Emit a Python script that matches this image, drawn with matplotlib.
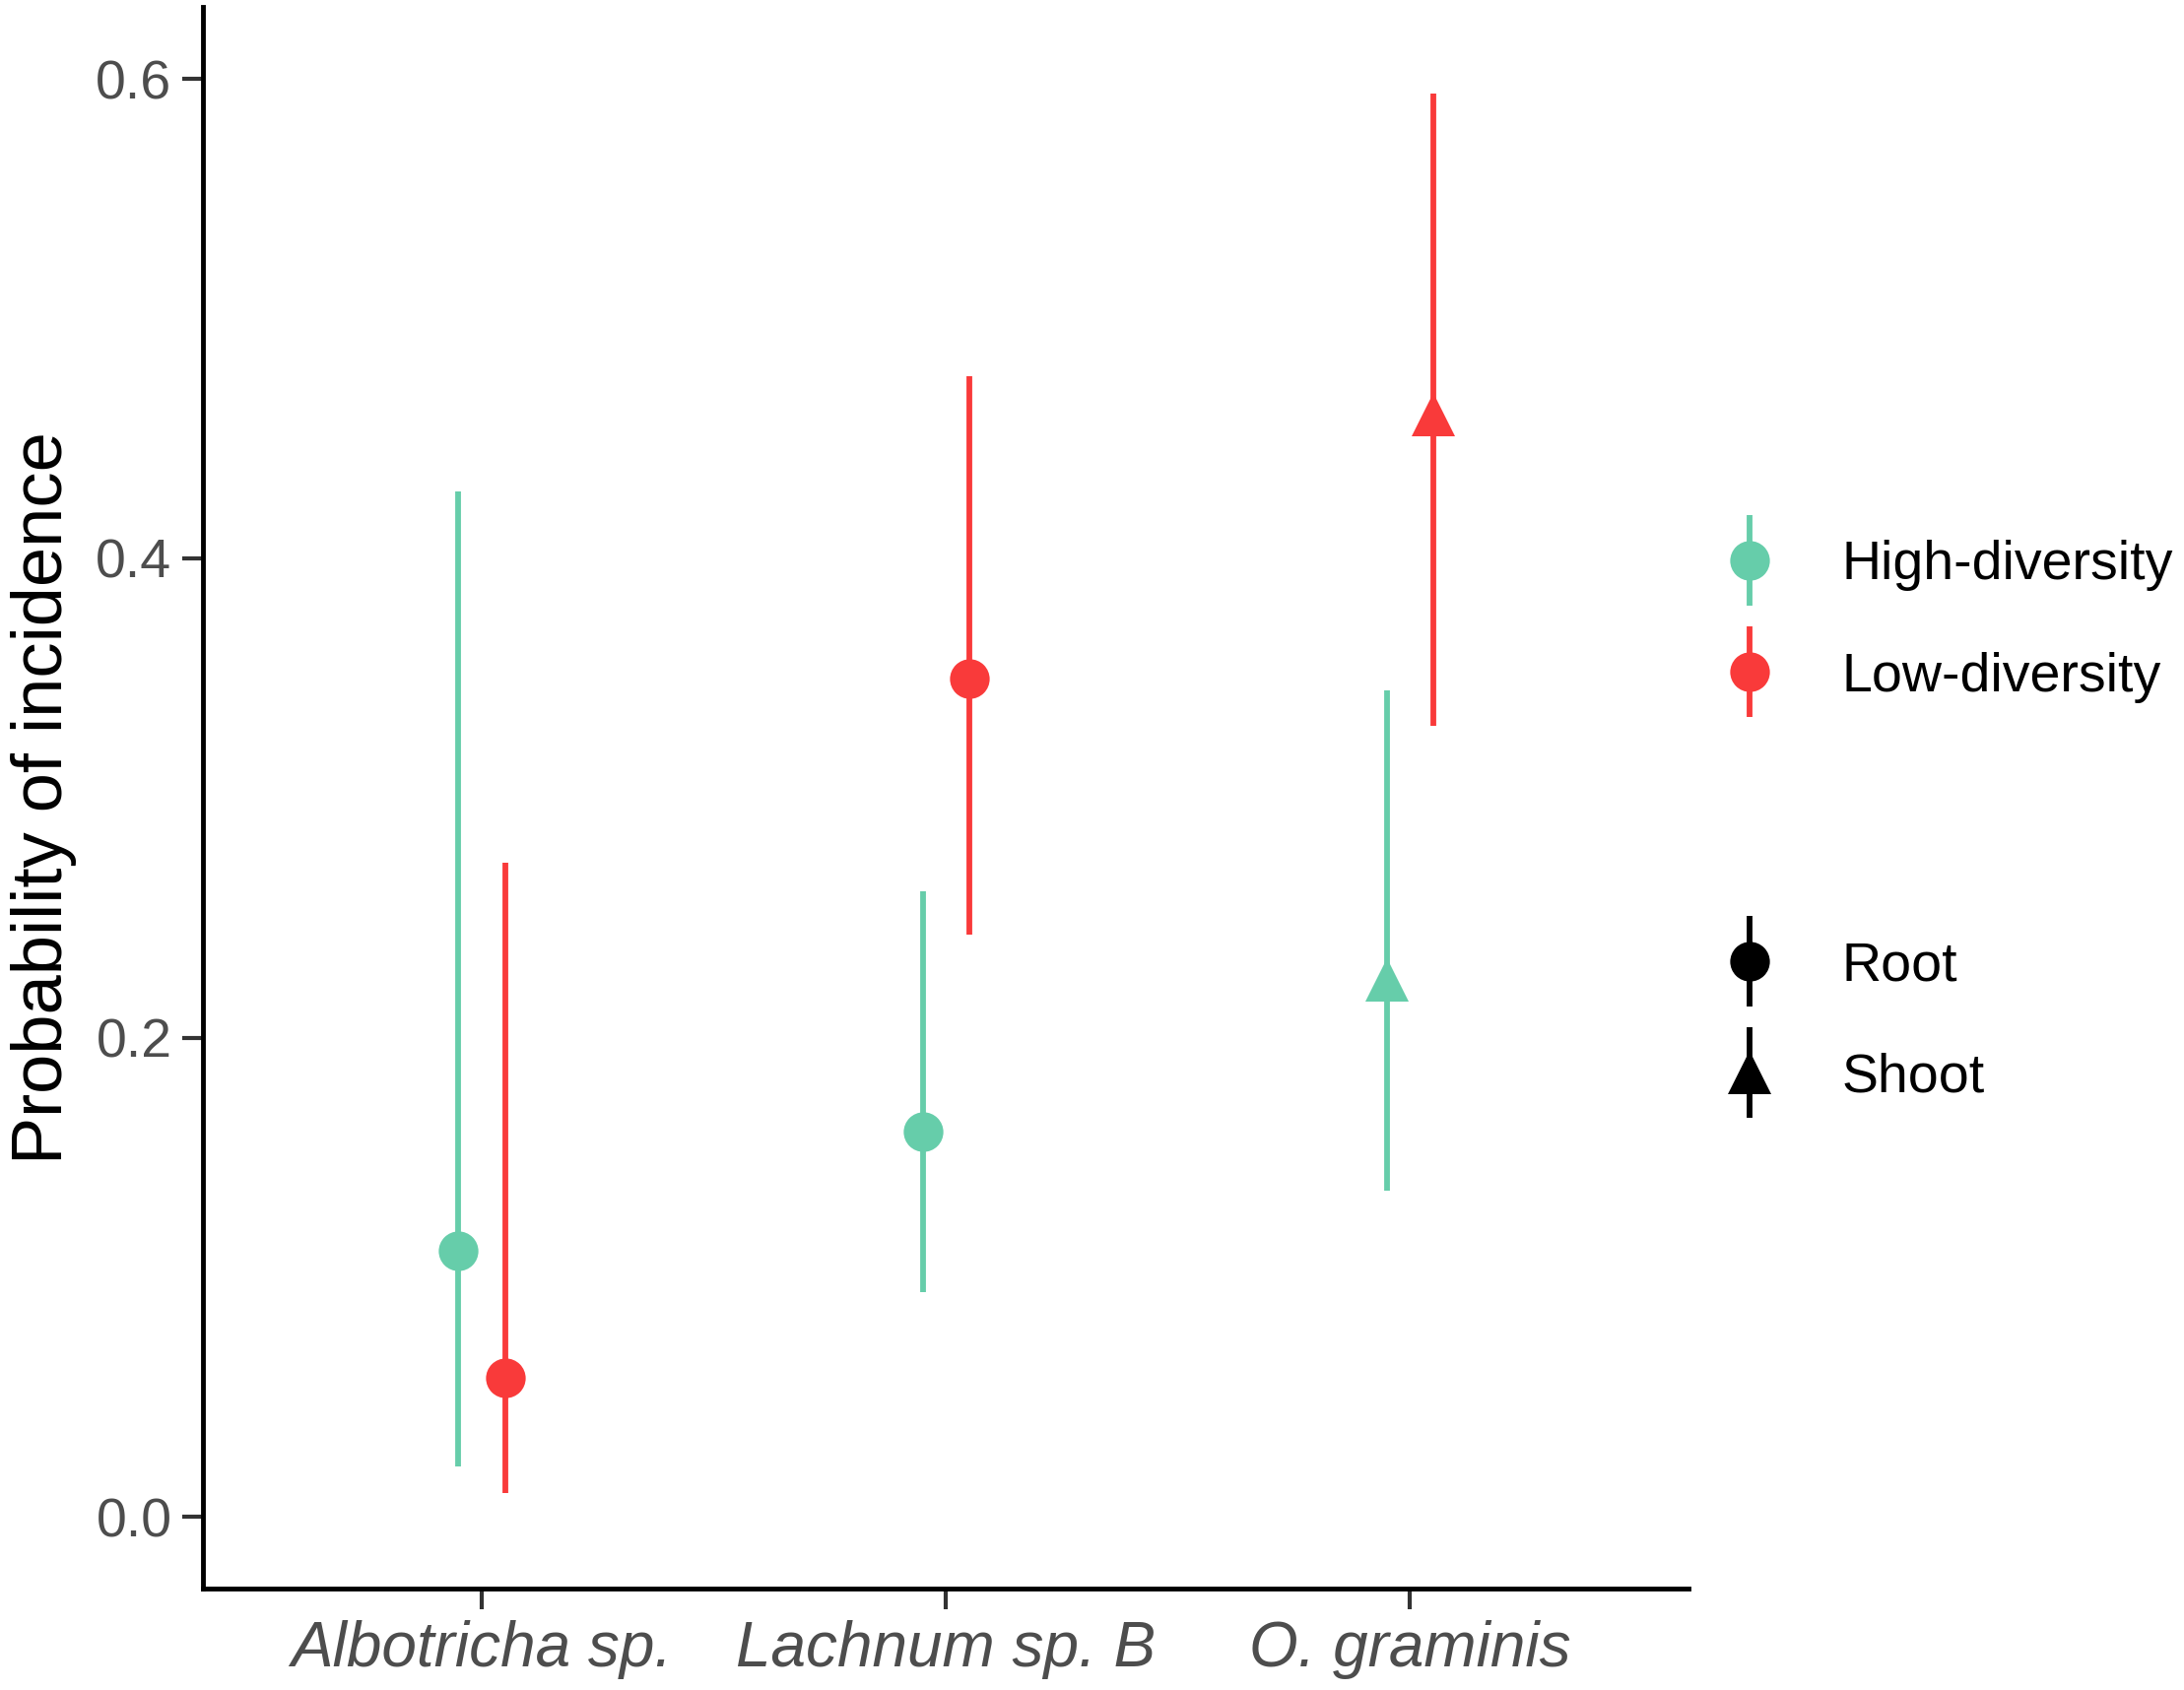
import matplotlib
matplotlib.use('Agg')
import matplotlib.pyplot as plt
from matplotlib.lines import Line2D
from matplotlib.legend_handler import HandlerBase
import numpy as np

plt.rcParams['font.family'] = ['Liberation Sans', 'DejaVu Sans']

species = ['Albotricha sp.', 'Lachnum sp. B', 'O. graminis']
tissue = ['Root', 'Root', 'Shoot']

high_est = [0.111, 0.161, 0.224]
high_lo = [0.021, 0.094, 0.136]
high_hi = [0.428, 0.261, 0.345]

low_est = [0.058, 0.350, 0.460]
low_lo = [0.010, 0.243, 0.330]
low_hi = [0.273, 0.476, 0.594]

teal = '#66CDAA'
red = '#F93A3A'
marker_of = {'Root': 'o', 'Shoot': '^'}

fig = plt.figure(figsize=(22.17, 17.16), dpi=100)
ax = fig.add_axes([0.0931, 0.0602, 0.6799, 0.9357])

x = np.arange(1, len(species) + 1)
dodge = 0.05
for xs, est, lo, hi, col in [(x - dodge, high_est, high_lo, high_hi, teal),
                             (x + dodge, low_est, low_lo, low_hi, red)]:
    for xi, e, l, h, t in zip(xs, est, lo, hi, tissue):
        ax.plot([xi, xi], [l, h], color=col, lw=4.2, solid_capstyle='butt', zorder=2)
        ms = 29 if t == 'Root' else 32
        ax.plot(xi, e, marker=marker_of[t], color=col, ms=ms, mew=0, zorder=3)

ax.set_xlim(0.4, 3.6)
ax.set_ylim(-0.0297, 0.630)
ax.set_xticks(x)
ax.set_xticklabels(species, fontsize=46, style='italic', color='#4D4D4D')
ax.set_yticks([0.0, 0.2, 0.4, 0.6])
ax.set_yticklabels(['0.0', '0.2', '0.4', '0.6'], fontsize=40, color='#4D4D4D')
ax.tick_params(axis='both', length=15, width=3, color='#333333', pad=8)
ax.set_ylabel('Probability of incidence', fontsize=52, labelpad=14)

for s in ['top', 'right']:
    ax.spines[s].set_visible(False)
for s in ['left', 'bottom']:
    ax.spines[s].set_linewidth(3.5)
    ax.spines[s].set_color('black')


# legend keys: point with a vertical range line through it
class HandlerPointRange(HandlerBase):
    def create_artists(self, legend, orig, xd, yd, width, height, fontsize, trans):
        cx = width / 2 - xd
        cy = height / 2 - yd
        half = 33
        vline = Line2D([cx, cx], [cy - half, cy + half], color=orig.get_color(),
                       lw=4.2, solid_capstyle='butt', transform=trans)
        pt = Line2D([cx], [cy], marker=orig.get_marker(), ms=orig.get_markersize(),
                    color=orig.get_color(), mew=0, linestyle='none', transform=trans)
        return [vline, pt]


def key(col, mk, ms):
    return Line2D([0], [0], color=col, lw=4.2, marker=mk, ms=ms, mew=0, linestyle='none')


leg_kw = dict(loc='center left', frameon=False, fontsize=40,
              handler_map={Line2D: HandlerPointRange()}, handlelength=1.6,
              handletextpad=0.88, labelspacing=1.1)
h_color = [key(teal, 'o', 29), key(red, 'o', 29)]
fig.legend(h_color, ['High-diversity', 'Low-diversity'],
           bbox_to_anchor=(0.7584, 0.6323), **leg_kw)
h_shape = [key('black', 'o', 29), key('black', '^', 32)]
fig.legend(h_shape, ['Root', 'Shoot'],
           bbox_to_anchor=(0.7584, 0.3950), **leg_kw)

fig.savefig('out.png', dpi=100)
plt.close()
